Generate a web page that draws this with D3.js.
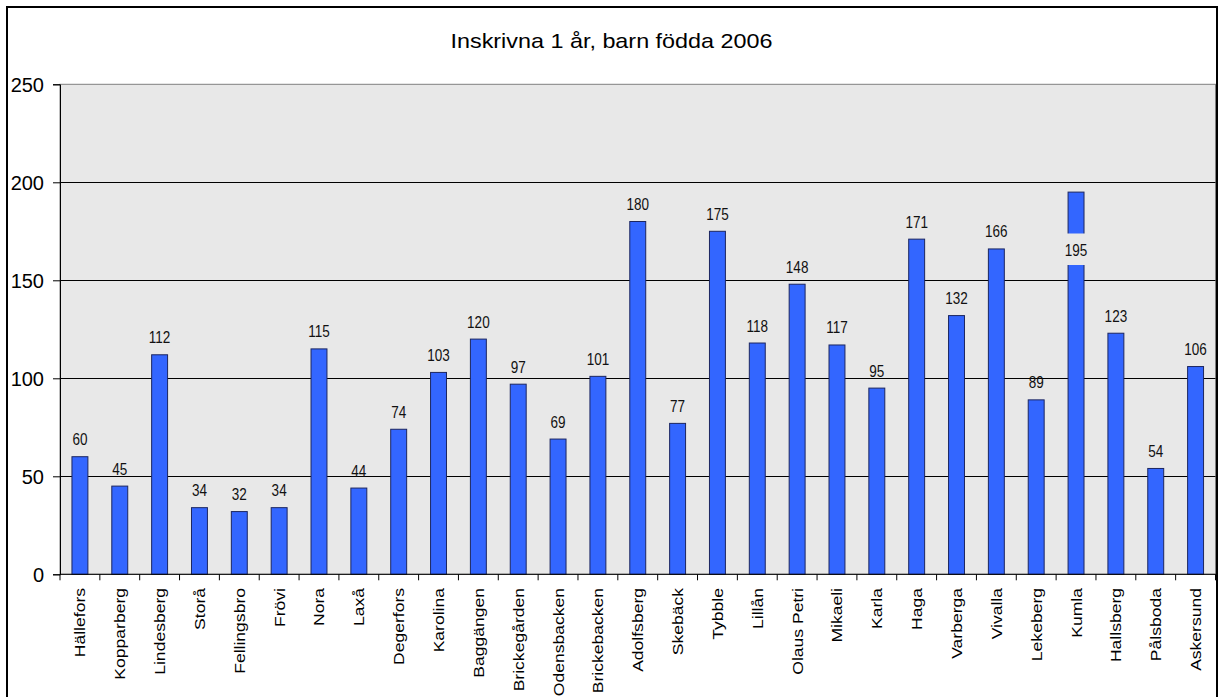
<!DOCTYPE html>
<html>
<head>
<meta charset="utf-8">
<script src="https://cdn.jsdelivr.net/npm/d3@7/dist/d3.min.js"></script>
<style>
  html, body { margin: 0; padding: 0; background: #fff; }
  svg { display: block; }
</style>
</head>
<body>
<script>
// Enrolled children at age 1, born 2006, per unit
const units = ["Hällefors", "Kopparberg", "Lindesberg", "Storå", "Fellingsbro", "Frövi", "Nora", "Laxå",
  "Degerfors", "Karolina", "Baggängen", "Brickegården", "Odensbacken", "Brickebacken", "Adolfsberg",
  "Skebäck", "Tybble", "Lillån", "Olaus Petri", "Mikaeli", "Karla", "Haga", "Varberga", "Vivalla",
  "Lekeberg", "Kumla", "Hallsberg", "Pålsboda", "Askersund"];
const enrolled = [60, 45, 112, 34, 32, 34, 115, 44, 74, 103, 120, 97, 69, 101, 180, 77, 175, 118, 148,
  117, 95, 171, 132, 166, 89, 195, 123, 54, 106];
const yTicks = [0, 50, 100, 150, 200, 250];
const titleText = "Inskrivna 1 år, barn födda 2006";

const W = 1219, H = 697;
const plot = { left: 60, right: 1215.5, top: 84.3, bottom: 574.3 };
const plotBg = "#e8e8e8";
const sans = "Liberation Sans, Arial, sans-serif";

const svg = d3.select("body").append("svg").attr("width", W).attr("height", H);

// outer frame
svg.append("rect").attr("x", 7).attr("y", 7).attr("width", 1210).attr("height", 700)
  .attr("fill", "#fff").attr("stroke", "#000").attr("stroke-width", 2);

const x = d3.scaleBand().domain(units).range([plot.left, plot.right])
  .paddingInner(0.6).paddingOuter(0.3);
const y = d3.scaleLinear().domain([0, 250]).range([plot.bottom, plot.top]);

// plot area
svg.append("rect").attr("x", plot.left).attr("y", plot.top)
  .attr("width", plot.right - plot.left).attr("height", plot.bottom - plot.top)
  .attr("fill", plotBg).attr("stroke", "#808080").attr("stroke-width", 1);

// gridlines
svg.append("g").selectAll("line").data(yTicks.filter(d => d > 0 && d < 250)).join("line")
  .attr("x1", plot.left).attr("x2", plot.right)
  .attr("y1", d => Math.round(y(d)) + 0.5).attr("y2", d => Math.round(y(d)) + 0.5)
  .attr("stroke", "#000").attr("stroke-width", 1);

// title
svg.append("text")
  .attr("transform", "translate(611.5,47.5) scale(1.14,1)")
  .attr("text-anchor", "middle")
  .attr("font-family", sans)
  .attr("font-size", 20.5).attr("fill", "#000")
  .text(titleText);

// bars
svg.append("g").selectAll("rect").data(units).join("rect")
  .attr("x", d => x(d)).attr("width", x.bandwidth())
  .attr("y", (d, i) => y(enrolled[i])).attr("height", (d, i) => y(0) - y(enrolled[i]))
  .attr("fill", "#3366ff").attr("stroke", "#1c2660").attr("stroke-width", 1);

// y axis
const yAxis = svg.append("g").attr("transform", `translate(${plot.left},0)`)
  .call(d3.axisLeft(y).tickValues(yTicks).tickSize(7).tickPadding(9));
yAxis.select(".domain").attr("stroke", "#000");
yAxis.selectAll(".tick line").attr("stroke", "#000");
yAxis.selectAll("text").attr("font-family", sans)
  .attr("font-size", 20).attr("fill", "#000").attr("dy", "0.35em");

// x axis with ticks at category boundaries
const xAxisG = svg.append("g").attr("transform", `translate(0,${plot.bottom})`);
xAxisG.append("line").attr("x1", plot.left).attr("x2", plot.right + 1.5)
  .attr("y1", 0).attr("y2", 0).attr("stroke", "#000");
const step = x.step();
const bounds = d3.range(units.length + 1).map(i => plot.left + i * step);
xAxisG.selectAll("line.tk").data(bounds).join("line").attr("class", "tk")
  .attr("x1", d => d).attr("x2", d => d).attr("y1", 0).attr("y2", 6).attr("stroke", "#000");

// category labels, rotated
svg.append("g").selectAll("text").data(units).join("text")
  .attr("transform", d => `translate(${x(d) + x.bandwidth() / 2 + 5.5},588) rotate(-90) scale(1.17,1)`)
  .attr("text-anchor", "end")
  .attr("font-family", sans)
  .attr("font-size", 15).attr("fill", "#000")
  .text(d => d);

// value labels (condensed)
const labels = svg.append("g");
units.forEach((u, i) => {
  const v = enrolled[i];
  const cx = x(u) + x.bandwidth() / 2;
  let by = y(v) - 11.5;
  if (v === 195) {
    // this label sits on its own bar, inside a box of the plot colour
    by = 255.5;
    labels.append("rect").attr("x", cx - 14).attr("y", 233.5).attr("width", 28).attr("height", 31.5)
      .attr("fill", plotBg);
  }
  labels.append("text")
    .attr("transform", `translate(${cx},${by}) scale(0.82,1)`)
    .attr("text-anchor", "middle")
    .attr("font-family", sans)
    .attr("font-size", 16.5).attr("fill", "#111")
    .text(v);
});
</script>
</body>
</html>
